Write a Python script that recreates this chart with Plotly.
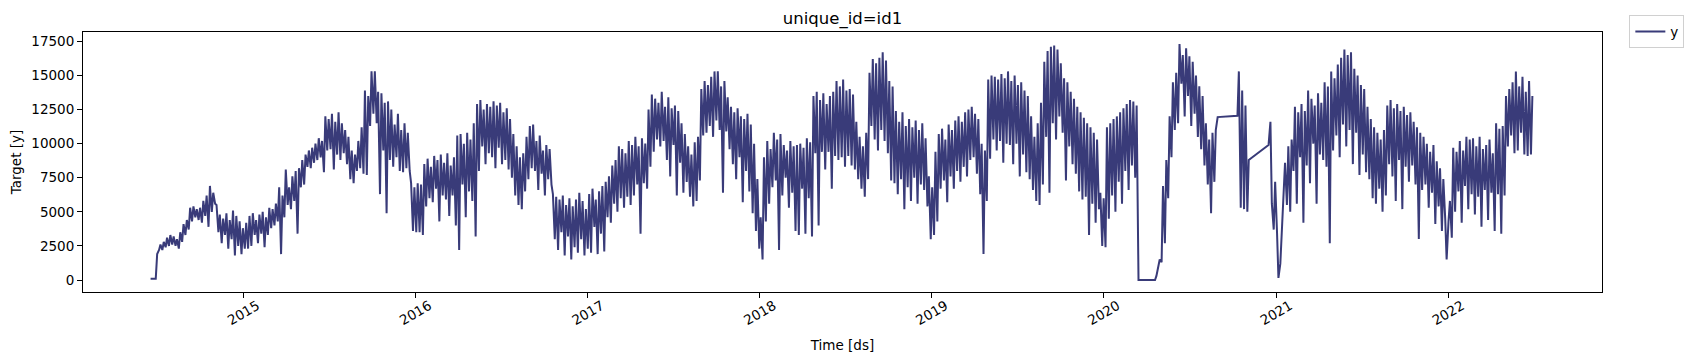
import pandas as pd
import plotly.graph_objects as go

# ---------------- data (~2 samples per week) ----------------
# Weekly samples: one mid-week (Wednesday) value and one weekend (Sunday) value.
first_week = "2014-06-16"  # Monday of the first week shown

wed_2014 = [100, 100, 1900, 2600, 2800, 3100, 3300, 3200, 3000, 3500, 4100, 4400, 5300, 5400, 5200,
            5300, 5800, 6200, 6900, 6400, 5500, 4800, 4500, 4900, 4400, 5100, 4700, 4300, 3800]
sun_2014 = [100, 100, 2200, 2200, 2400, 2500, 2600, 2500, 2300, 2800, 3300, 3700, 4300, 4600, 4400,
            4200, 4700, 3900, 5000, 5600, 3500, 2700, 3300, 2300, 3000, 1800, 2500, 1900, 2300]

wed_2015 = [4200, 4700, 4900, 4400, 4800, 5000, 4600, 5300, 5200, 5600, 6800, 6200, 8100, 6800, 7600,
            8000, 8200, 8800, 9200, 9500, 9700, 10000, 10400, 10200, 12000, 11800, 12200, 11600, 12300,
            11500, 11000, 10500, 9500, 9200, 10200, 11200, 13900, 13500, 15300, 15300, 13800, 13700,
            13000, 13100, 12500, 11400, 12200, 11000, 11500, 10800, 7100, 6800]
sun_2015 = [2300, 2500, 3300, 2700, 3400, 2400, 3300, 3800, 4000, 4300, 1900, 4600, 5500, 5200, 5800,
            3400, 6800, 7000, 8300, 8200, 8600, 8800, 9000, 7900, 9500, 9600, 8100, 9200, 8800, 9300,
            8500, 7400, 7100, 8000, 8200, 7800, 7700, 11300, 12200, 11500, 6300, 9500, 4900, 8800,
            8300, 9000, 8000, 7900, 8200, 8000, 3600, 3500]

wed_2016 = [7100, 7000, 8500, 8900, 8300, 9100, 8800, 9200, 8600, 9300, 8400, 9000, 10600, 10700,
            10000, 10800, 10300, 11500, 12900, 13200, 12500, 12900, 12700, 13100, 12800, 13000, 12300,
            12600, 11800, 10700, 9800, 9000, 9300, 10500, 11300, 11400, 10200, 10600, 9500, 9900, 9600,
            6300, 6100, 5900, 6200, 5500, 6000, 5400, 5900, 6400, 5800, 5200]
sun_2016 = [3500, 3300, 5400, 6000, 5700, 6700, 4300, 6200, 5900, 4700, 6200, 4000, 2200, 7000, 4600,
            6500, 5800, 3200, 8000, 9800, 8500, 9300, 9000, 8200, 9700, 8500, 8800, 8100, 7500, 6200,
            5500, 5200, 6500, 7400, 8200, 8000, 6600, 7800, 6200, 7400, 7000, 3000, 2200, 3500, 1800,
            3200, 1500, 2400, 2000, 3000, 1800, 2300]

wed_2017 = [6300, 6700, 5900, 6500, 6900, 7200, 7600, 8400, 8800, 9800, 9600, 9300, 10200, 9900,
            10500, 9800, 10400, 10000, 12500, 13600, 13300, 13000, 13800, 12700, 13400, 12600, 12800,
            12400, 11500, 10700, 9800, 9200, 10100, 10500, 14000, 14600, 14300, 14900, 15300, 15300,
            14200, 14600, 13400, 12700, 12300, 12600, 12000, 11800, 12200, 11400, 10000, 7400]
sun_2017 = [2000, 3900, 1900, 3400, 2100, 4600, 4200, 5600, 5000, 6000, 5300, 6100, 5500, 6200, 7000,
            3400, 7100, 6700, 8300, 9400, 10300, 9800, 10200, 8800, 7600, 9900, 6200, 8600, 6400, 7200,
            6100, 5400, 5800, 7300, 10600, 10800, 11300, 10500, 11700, 11000, 6400, 10900, 9600, 8500,
            7400, 9000, 5700, 8000, 6500, 4900, 3600, 2300]

wed_2018 = [4600, 9000, 10200, 9600, 10800, 10300, 10700, 9900, 9500, 10200, 9800, 9900, 10000, 9700,
            10400, 10100, 13500, 13800, 13200, 13700, 12900, 13500, 13800, 14600, 14200, 14700, 13900,
            14000, 13600, 11600, 10500, 9800, 10800, 15200, 16200, 15900, 16300, 16700, 16100, 14600,
            14200, 12400, 11600, 12300, 11300, 11800, 11200, 11700, 11000, 11500, 10400, 7600]
sun_2018 = [1500, 4300, 5600, 6800, 7300, 2200, 6200, 7500, 5300, 6400, 3600, 3300, 6700, 3400, 6000,
            3200, 9300, 4000, 9400, 8100, 9400, 6700, 9100, 8800, 9000, 8300, 9100, 8400, 8100, 7400,
            6700, 6100, 7400, 11300, 10300, 9500, 11000, 10200, 9300, 7300, 7100, 6300, 7400, 5200,
            6800, 5800, 7500, 5600, 7000, 6600, 5400, 3000]

wed_2019 = [6800, 9400, 10700, 11100, 10300, 11400, 11000, 11700, 12000, 11600, 12300, 12500, 12700,
            12200, 11800, 10000, 9500, 14700, 15000, 14900, 14700, 15100, 14800, 15300, 14600, 15000,
            14300, 14500, 13900, 13500, 12000, 10500, 11500, 13000, 16000, 16800, 17100, 17200, 16900,
            15900, 14800, 14500, 13800, 13300, 12700, 12300, 11900, 11500, 11200, 10800, 10300, 6400]
sun_2019 = [3300, 4300, 6700, 7300, 5700, 7600, 6700, 8000, 7200, 8300, 7600, 8800, 9000, 7800, 6300,
            1900, 5800, 8900, 10300, 9500, 10200, 8600, 10000, 9900, 8500, 10000, 7600, 9200, 7900,
            7400, 6600, 5800, 5500, 7000, 10500, 6400, 11500, 10300, 12000, 10800, 7300, 9800, 8500,
            7800, 6500, 5900, 6100, 3300, 5600, 4200, 5200, 2500]

# None = no observation that day (the line is drawn straight across the gap)
wed_2020 = [6000, 11200, 11500, 11800, 12000, 12300, 12600, 12900, 13200, 13100, 12800, 0, 0, 0, 0, 0,
            300, 1500, 6900, 8800, 12000, 14500, 15200, 17300, 16500, 17000, 16400, 16000, 15000,
            14200, 13500, 11500, 10300, 10800, 11000, None, None, None, None, None, None, 15300, 13900,
            12800, 8800, None, None, None, None, None, 9900, 5600]
sun_2020 = [2400, 4500, 6200, 5000, 7200, 5600, 8000, 6600, 8400, 7500, 0, 0, 0, 0, 0, 0, 900, 1300,
            2700, 6000, 9000, 11000, 11500, 14400, 12000, 13500, 11300, 12200, 10500, 9600, 8400, 7000,
            4900, 7200, 11950, None, None, None, None, None, 12050, 5300, 5200, 5000, None, None, None,
            None, None, None, 11600, 3700]

wed_2021 = [7200, 150, 3400, 8600, 9800, 10300, 12700, 12300, 12900, 12400, 13900, 13300, 12800, 13700,
            13000, 14500, 14200, 15300, 14800, 15800, 16300, 16900, 16500, 16700, 15500, 15000, 14300,
            14000, 12700, 11800, 11200, 10800, 10300, 11000, 12800, 13200, 12600, 12900, 12400, 12700,
            12100, 12300, 11600, 11200, 10800, 10500, 10000, 9400, 9900, 8700, 8200, 7400]
sun_2021 = [3500, 1200, 5400, 5500, 5000, 8000, 5600, 9000, 4200, 8400, 7100, 10000, 5600, 9200, 8800,
            8300, 2700, 9500, 10600, 9000, 11400, 9800, 11000, 8500, 10800, 7700, 9200, 7900, 7400,
            6000, 5600, 6700, 5000, 6200, 8500, 7600, 5800, 8800, 5200, 8300, 7200, 8400, 7000, 3000,
            6600, 7000, 5300, 6400, 4100, 5400, 3600, 4500]

wed_2022 = [1500, 5800, 9700, 9400, 10200, 9500, 10500, 10300, 10400, 9800, 10500, 9600, 9900, 10300,
            9300, 11500, 11100, 11300, 13500, 14000, 14500, 15300, 14200, 14900, 13800, 14600, 13500]
sun_2022 = [4300, 3100, 5000, 6500, 4200, 6900, 5200, 6300, 4800, 6100, 3900, 6600, 4400, 6400, 3600,
            6300, 3400, 6200, 9800, 10600, 9300, 9500, 10800, 9200, 9100, 9200, None]

x_tick_years = [2015, 2016, 2017, 2018, 2019, 2020, 2021, 2022]
y_tick_values = [0, 2500, 5000, 7500, 10000, 12500, 15000, 17500]

# ---------------- assemble the daily-style series ----------------
wed_all = (wed_2014 + wed_2015 + wed_2016 + wed_2017 + wed_2018 + wed_2019 + wed_2020 + wed_2021
           + wed_2022)
sun_all = (sun_2014 + sun_2015 + sun_2016 + sun_2017 + sun_2018 + sun_2019 + sun_2020 + sun_2021
           + sun_2022)
assert len(wed_all) == len(sun_all)
weeks = pd.date_range(first_week, periods=len(wed_all), freq="7D")
ds, yv = [], []
for w, a, b in zip(weeks, wed_all, sun_all):
    ds.append(w + pd.Timedelta(days=2)); yv.append(a)
    ds.append(w + pd.Timedelta(days=6)); yv.append(b)

LINE = "#393b79"
FONT = "DejaVu Sans"

# The page body has an 8px default margin on every side, so the figure is drawn
# 16px smaller than the window and offset by 8px.
FIG_W, FIG_H = 1681, 345

fig = go.Figure()
fig.add_trace(go.Scatter(x=ds, y=yv, mode="lines", name="y", connectgaps=True,
                         line=dict(color=LINE, width=2.0)))

fig.update_layout(
    width=FIG_W, height=FIG_H,
    margin=dict(l=75, r=87, t=24, b=61, autoexpand=False),
    paper_bgcolor="white", plot_bgcolor="white",
    font=dict(family=FONT, size=13.5, color="black"),
    title=dict(text="unique_id=id1", x=0.5, xref="paper", xanchor="center",
               y=1 - 10 / FIG_H, yref="container", yanchor="middle",
               font=dict(family=FONT, size=16.5, color="black")),
    showlegend=True,
    legend=dict(x=1.018, y=1.065, xanchor="left", yanchor="top",
                bgcolor="white", bordercolor="#d0d0d0", borderwidth=1,
                itemwidth=30, font=dict(family=FONT, size=13.5, color="black")),
)

fig.update_xaxes(
    range=["2014-01-25 14:00", "2022-11-23 19:00"],
    tickvals=[pd.Timestamp(f"{yr}-01-01") for yr in x_tick_years],
    ticktext=[str(yr) for yr in x_tick_years],
    tickangle=-30, ticklabelshift=14, ticklabelstandoff=-5,
    ticks="outside", ticklen=5, tickwidth=1, tickcolor="black",
    showline=True, linecolor="black", linewidth=1, mirror=True,
    showgrid=False, zeroline=False,
    title=dict(text="Time [ds]", standoff=13, font=dict(family=FONT, size=13.5)),
    automargin=False,
)
fig.update_yaxes(
    range=[-880, 18190],
    tickvals=y_tick_values,
    tickformat="d",
    ticks="outside", ticklen=5, tickwidth=1, tickcolor="black",
    showline=True, linecolor="black", linewidth=1, mirror=True,
    showgrid=False, zeroline=False,
    title=dict(text="Target [y]", standoff=8, font=dict(family=FONT, size=13.5)),
    automargin=False,
)

fig.write_html("out.html")
